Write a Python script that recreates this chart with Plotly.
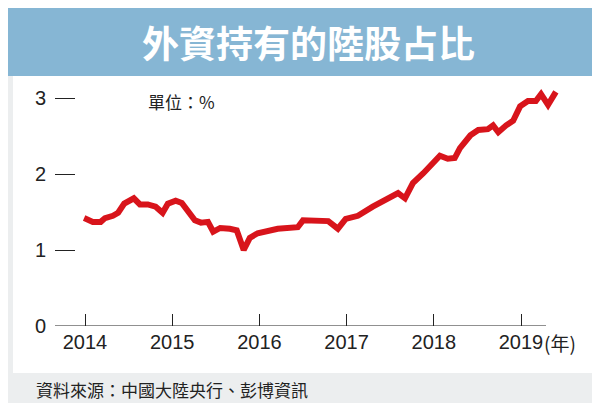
import plotly.graph_objects as go

years = [2013.99,2014.09,2014.18,2014.23,2014.32,2014.38,2014.45,2014.52,2014.56,2014.63,2014.72,2014.81,2014.89,2014.95,
         2015.04,2015.11,2015.18,2015.26,2015.33,2015.41,2015.47,2015.55,2015.66,2015.74,2015.82,2015.89,2015.98,
         2016.21,2016.44,2016.50,2016.79,2016.81,2016.90,2016.99,2017.13,2017.30,2017.47,2017.59,2017.67,2017.76,2017.88,
         2017.99,2018.07,2018.16,2018.24,2018.30,2018.42,2018.51,2018.62,2018.68,2018.74,2018.83,2018.91,2018.99,
         2019.08,2019.17,2019.23,2019.31,2019.40]
share = [1.42,1.37,1.37,1.42,1.45,1.49,1.61,1.66,1.68,1.60,1.60,1.57,1.49,1.61,
         1.65,1.62,1.51,1.39,1.36,1.37,1.24,1.29,1.28,1.26,1.00,1.16,1.22,
         1.28,1.30,1.39,1.38,1.36,1.28,1.41,1.45,1.57,1.68,1.75,1.68,1.88,2.01,
         2.14,2.24,2.20,2.21,2.34,2.51,2.58,2.59,2.64,2.55,2.64,2.70,2.89,
         2.96,2.96,3.05,2.91,3.08]
xticks = [2014, 2015, 2016, 2017, 2018, 2019]
yticks = [0, 1, 2, 3]

W, H = 600, 408
L, R, T, B = 47, 552, 67, 318
def px(x): return (x - L) / (R - L)
def py(y): return (B - y) / (B - T)

fig = go.Figure()
fig.add_trace(go.Scatter(x=years, y=share, mode="lines",
                         line=dict(color="#d8141b", width=6), hoverinfo="skip"))

shapes = [
    dict(type="rect", xref="paper", yref="paper", x0=px(5), x1=px(595), y0=py(365), y1=py(68),
         fillcolor="white", line_width=0, layer="below"),
    dict(type="rect", xref="paper", yref="paper", x0=px(0), x1=px(600), y0=py(68), y1=py(0),
         fillcolor="#86b6d4", line_width=0, layer="below"),
    dict(type="rect", xref="paper", yref="paper", x0=px(0), x1=px(600), y0=py(408), y1=py(395),
         fillcolor="white", line_width=0, layer="below"),
    dict(type="line", xref="paper", yref="y", x0=px(47), x1=px(538), y0=0, y1=0,
         line=dict(color="#222", width=1.2)),
]

fig.update_layout(
    width=W, height=H, margin=dict(l=L, r=W - R, t=T, b=H - B),
    paper_bgcolor="#eceeef", plot_bgcolor="rgba(0,0,0,0)",
    showlegend=False, shapes=shapes,
    font=dict(family="Noto Sans CJK TC, Liberation Sans", color="#222"),
    xaxis=dict(range=[2013.656, 2013.656 + (R - L) / 87.2], tickvals=xticks,
               ticktext=[str(v) for v in xticks], ticks="inside", ticklen=12,
               tickcolor="#222", showgrid=False, zeroline=False, showline=False,
               tickfont=dict(size=20, family="Liberation Sans"), ticklabelstandoff=2,
               fixedrange=True),
    yaxis=dict(range=[0, (B - T) / 76], tickvals=yticks, ticktext=[str(v) for v in yticks],
               ticks="inside", ticklen=20, tickcolor="#222", tickwidth=1.2,
               showgrid=False, zeroline=False, showline=False, ticklabelstandoff=8,
               tickfont=dict(size=20, family="Liberation Sans"), fixedrange=True),
    annotations=[
        dict(text="<b>外資持有的陸股占比</b>", xref="paper", yref="paper", x=px(300),
             y=py(34), showarrow=False, font=dict(size=37, color="white"), xanchor="center", yanchor="middle"),
        dict(text="單位：%", xref="paper", yref="paper", x=px(138), y=py(93), showarrow=False,
             xanchor="left", yanchor="middle", font=dict(size=17)),
        dict(text="(年)", xref="paper", yref="paper", x=px(534), y=py(334), showarrow=False,
             xanchor="left", yanchor="middle", font=dict(size=19)),
        dict(text="資料來源：中國大陸央行、彭博資訊", xref="paper", yref="paper", x=px(26), y=py(381),
             showarrow=False, xanchor="left", yanchor="middle", font=dict(size=17)),
    ],
)
fig.write_html("out.html")
